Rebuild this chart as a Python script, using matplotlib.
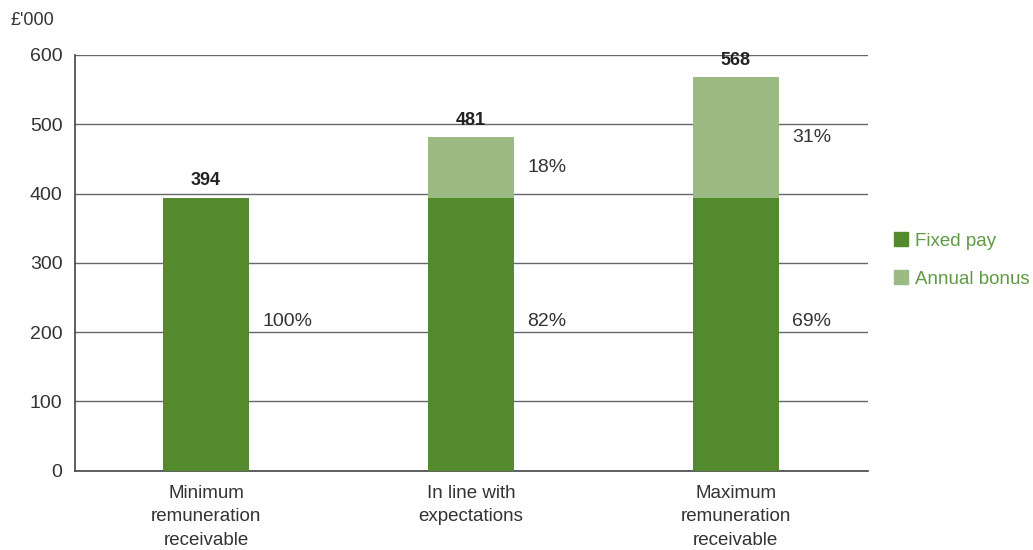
import matplotlib.pyplot as plt
from matplotlib.patches import Patch

categories = ["Minimum\nremuneration\nreceivable", "In line with\nexpectations", "Maximum\nremuneration\nreceivable"]
fixed_pay = [394, 394, 394]
annual_bonus = [0, 87, 174]
totals = [394, 481, 568]
fixed_pct = ["100%", "82%", "69%"]
bonus_pct = [None, "18%", "31%"]

FIXED = "#548a2e"
BONUS = "#9cba84"
TEXT = "#333333"

plt.rcParams["font.family"] = ["Liberation Sans", "DejaVu Sans"]

fig = plt.figure(figsize=(10.33, 5.5), dpi=100)
ax = fig.add_axes([0.0726, 0.1442, 0.7677, 0.7558])

x = list(range(len(categories)))
w = 0.325
ax.bar(x, fixed_pay, width=w, color=FIXED, zorder=3)
ax.bar(x, annual_bonus, width=w, bottom=fixed_pay, color=BONUS, zorder=3)

for i in x:
    ax.annotate(str(totals[i]), (i, totals[i]), xytext=(0, 6), textcoords="offset points",
                ha="center", va="bottom", fontsize=13, fontweight="bold", color="#222222")
    ax.text(i + w / 2 + 0.05, 215, fixed_pct[i], ha="left", va="center",
            fontsize=14, color=TEXT)
    if bonus_pct[i]:
        ax.text(i + w / 2 + 0.05, fixed_pay[i] + annual_bonus[i] / 2, bonus_pct[i],
                ha="left", va="center", fontsize=14, color=TEXT)

ax.set_xlim(-0.495, 2.5)
ax.set_ylim(0, 600)
ax.set_yticks(range(0, 601, 100))
ax.set_xticks(x)
ax.set_xticklabels(categories, fontsize=13.5, color=TEXT, linespacing=1.5)
ax.tick_params(axis="y", length=0, pad=9, labelsize=14, labelcolor=TEXT)
ax.tick_params(axis="x", length=0, pad=10)
ax.grid(axis="y", color="#666666", linewidth=1.0, zorder=0)
for s in ["top", "right"]:
    ax.spines[s].set_visible(False)
ax.spines["left"].set_color("#444444")
ax.spines["bottom"].set_color("#444444")
ax.spines["left"].set_linewidth(1.2)
ax.spines["bottom"].set_linewidth(1.2)

fig.text(0.010, 0.963, "£'000", fontsize=13, color=TEXT, ha="left", va="center")

handles = [Patch(color=FIXED, label="Fixed pay"), Patch(color=BONUS, label="Annual bonus")]
leg = fig.legend(handles=handles, loc="center left", bbox_to_anchor=(0.865, 0.527),
                 frameon=False, fontsize=13.5, handlelength=0.75, handleheight=0.75,
                 handletextpad=0.4, labelspacing=1.1, labelcolor="#5f9a44",
                 borderaxespad=0, borderpad=0)

fig.savefig("out.png", dpi=100)
